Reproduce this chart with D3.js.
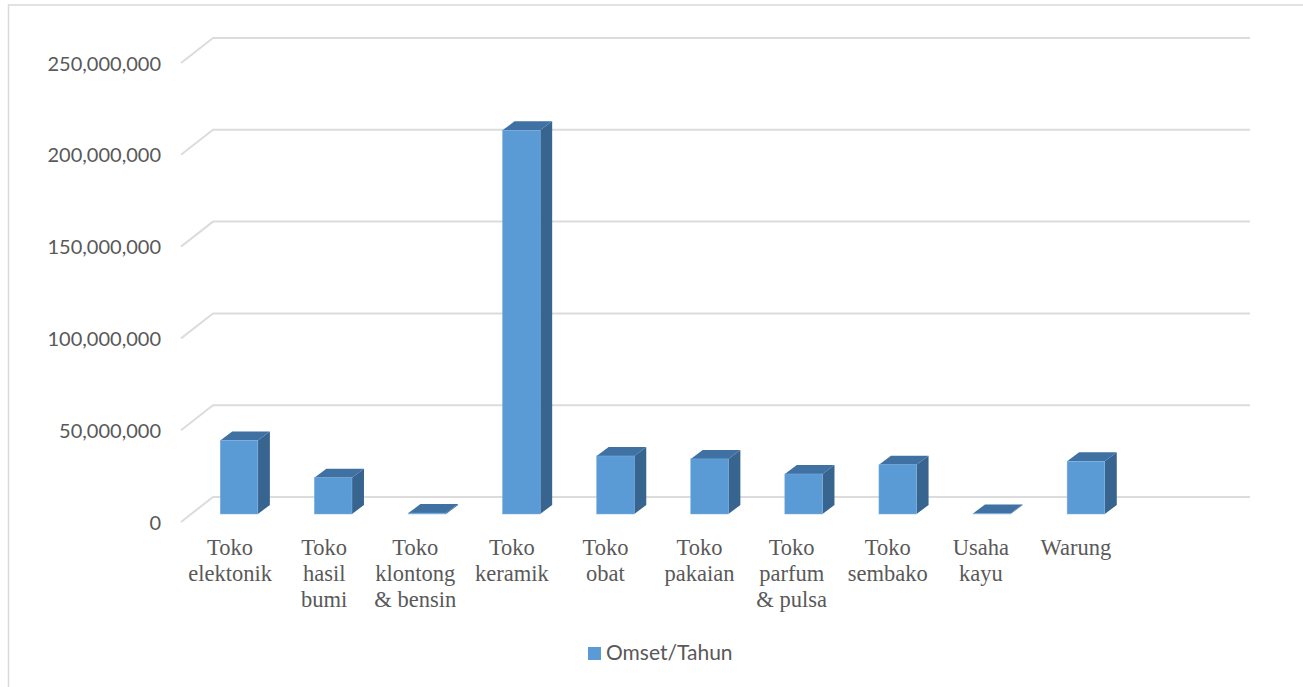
<!DOCTYPE html>
<html>
<head>
<meta charset="utf-8">
<script src="https://cdn.jsdelivr.net/npm/d3@7"></script>
<style>
  html, body { margin: 0; padding: 0; background: #fff; overflow: hidden; }
  svg { display: block; }
  .ytick { font-family: "Lato", sans-serif; font-size: 20px; fill: #595959; }
  .cat { font-family: "Liberation Serif", serif; font-size: 22.5px; fill: #595959; }
  .legend { font-family: "Lato", sans-serif; font-size: 21px; fill: #595959; }
</style>
</head>
<body>
<div id="chart"></div>
<script>
// Values
const categories = [
    ['Toko', 'elektonik'],
    ['Toko', 'hasil', 'bumi'],
    ['Toko', 'klontong', '& bensin'],
    ['Toko', 'keramik'],
    ['Toko', 'obat'],
    ['Toko', 'pakaian'],
    ['Toko', 'parfum', '& pulsa'],
    ['Toko', 'sembako'],
    ['Usaha', 'kayu'],
    ['Warung']
];
const omset = [40000000, 19800000, 500000, 209000000, 31600000, 30000000, 21800000, 26800000, 300000, 28700000];
const yTicks = [0, 50000000, 100000000, 150000000, 200000000, 250000000];
const labelShift = [-9, -9, -12, -9.5, -10, -10, -12, -10, -11, -10];

const width = 1303, height = 687;
const depthX = 12, depthY = 9;       // bar side/top depth
const wallX = 32, wallY = 25;        // gridline slant on the left wall

const svg = d3.select('#chart').append('svg')
    .attr('width', width)
    .attr('height', height);

// outer frame, only top and left show in the picture
svg.append('path')
    .attr('d', 'M1303,5H8.5V687')
    .attr('fill', 'none')
    .attr('stroke', '#d9d9d9')
    .attr('stroke-width', 1.5);

const y = d3.scaleLinear().domain([0, 250000000]).range([514, 55]);
const x = d3.scaleBand()
    .domain(d3.range(categories.length))
    .range([192, 1133])
    .paddingInner(0.6)
    .paddingOuter(0.3);

// gridlines: back line with slanted piece toward the axis labels
const grid = svg.append('g');
yTicks.forEach(t => {
    const gy = y(t) - 17;
    grid.append('path')
        .attr('d', `M${213 - wallX},${gy + wallY}L213,${gy}H1250`)
        .attr('fill', 'none')
        .attr('stroke', '#dcdcdc')
        .attr('stroke-width', 2);
    svg.append('text')
        .attr('class', 'ytick')
        .attr('x', 161)
        .attr('y', gy + wallY + 7.5)
        .attr('text-anchor', 'end')
        .text(d3.format(',')(t));
});

// 3d bars
const bars = svg.append('g').selectAll('g')
    .data(omset)
    .join('g');

bars.append('path')   // side
    .attr('fill', '#386490')
    .attr('d', (d, i) => {
        const r = x(i) + x.bandwidth();
        return `M${r},${y(d)}l${depthX},${-depthY}V${y(0) - depthY}l${-depthX},${depthY}Z`;
    });

bars.append('path')   // top
    .attr('fill', '#3f71a3')
    .attr('d', (d, i) => `M${x(i)},${y(d)}l${depthX},${-depthY}h${x.bandwidth()}l${-depthX},${depthY}Z`);

bars.append('rect')   // front
    .attr('fill', '#5b9bd5')
    .attr('stroke', '#7fb0e0')
    .attr('stroke-width', 0.5)
    .attr('x', (d, i) => x(i))
    .attr('y', d => y(d))
    .attr('width', x.bandwidth())
    .attr('height', d => y(0) - y(d));

// category labels
const labels = svg.append('g').selectAll('text')
    .data(categories)
    .join('text')
    .attr('class', 'cat')
    .attr('text-anchor', 'middle');

labels.selectAll('tspan')
    .data((d, i) => d.map(line => ({ line, i })))
    .join('tspan')
    .attr('x', d => x(d.i) + x.bandwidth() / 2 + labelShift[d.i])
    .attr('y', (d, j) => 555 + j * 26)
    .text(d => d.line);

// legend
svg.append('rect')
    .attr('x', 588).attr('y', 647)
    .attr('width', 13).attr('height', 13)
    .attr('fill', '#5b9bd5');
svg.append('text')
    .attr('class', 'legend')
    .attr('x', 606).attr('y', 660)
    .text('Omset/Tahun');
</script>
</body>
</html>
